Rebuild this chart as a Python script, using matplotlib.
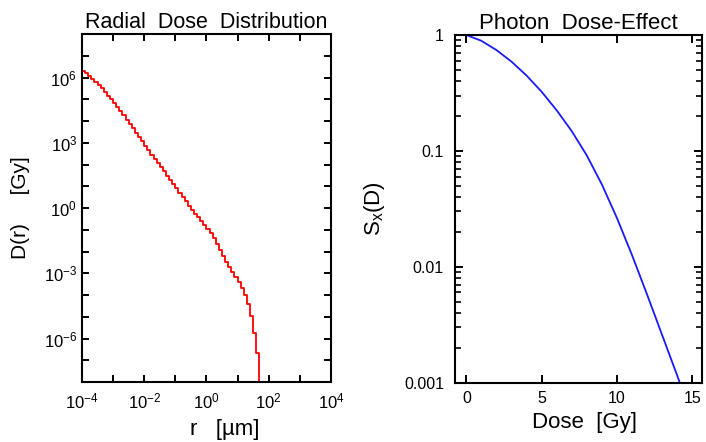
import matplotlib
matplotlib.use("Agg")
import matplotlib.pyplot as plt
import matplotlib.ticker as ticker
import numpy as np

# radial dose: bin edges in log10(r / um), one bin per 0.1 decade
LOG_R_EDGES = [
    -4.0, -3.9, -3.8, -3.7, -3.6, -3.5, -3.4, -3.3, -3.2, -3.1,
    -3.0, -2.9, -2.8, -2.7, -2.6, -2.5, -2.4, -2.3, -2.2, -2.1,
    -2.0, -1.9, -1.8, -1.7, -1.6, -1.5, -1.4, -1.3, -1.2, -1.1,
    -1.0, -0.9, -0.8, -0.7, -0.6, -0.5, -0.4, -0.3, -0.2, -0.1,
    0.0, 0.1, 0.2, 0.3, 0.4, 0.5, 0.6, 0.7, 0.8, 0.9,
    1.0, 1.1, 1.2, 1.3, 1.4, 1.5, 1.6, 1.7,
]
# log10(D / Gy) in each bin
LOG_DOSE = [
    6.30, 6.19, 6.07, 5.94, 5.80, 5.65, 5.50, 5.34, 5.17, 5.00,
    4.82, 4.64, 4.45, 4.26, 4.06, 3.86, 3.66, 3.46, 3.26, 3.06,
    2.86, 2.66, 2.46, 2.27, 2.07, 1.88, 1.68, 1.49, 1.29, 1.10,
    0.90, 0.71, 0.51, 0.31, 0.11, -0.09, -0.26, -0.43, -0.60, -0.77,
    -0.95, -1.16, -1.40, -1.65, -1.92, -2.19, -2.46, -2.72, -2.96, -3.19,
    -3.42, -3.68, -3.98, -4.40, -4.95, -5.75, -6.65,
]

# photon survival curve
PHOTON_DOSE = [0, 1, 2, 3, 4, 5, 6, 7, 8, 9, 10, 11, 12, 13, 14, 14.17]
LOG_SURVIVAL = [0.0, -0.05, -0.13, -0.23, -0.35, -0.49, -0.65, -0.83, -1.04,
                -1.29, -1.58, -1.90, -2.24, -2.59, -2.94, -3.0]

plt.rcParams.update({
    "font.family": "Liberation Sans",
    "mathtext.fontset": "custom",
    "mathtext.rm": "Liberation Sans",
    "mathtext.it": "Liberation Sans",
    "font.size": 11.5,
    "axes.linewidth": 1.5,
    "xtick.direction": "in",
    "ytick.direction": "in",
    "xtick.top": True,
    "ytick.right": True,
})

fig = plt.figure(figsize=(7.06, 4.42), dpi=100)

# ---- left: radial dose distribution
ax1 = fig.add_axes([0.1161, 0.1357, 0.3527, 0.7873])
r_edges = 10.0 ** np.array(LOG_R_EDGES)
dose = 10.0 ** np.array(LOG_DOSE)
ax1.step(r_edges, np.append(dose, 1e-12), where="post", color="#ff0000", lw=1.3)
ax1.set_xscale("log")
ax1.set_yscale("log")
ax1.set_xlim(1e-4, 1e4)
ax1.set_ylim(1e-8, 1e8)
ax1.xaxis.set_major_locator(ticker.FixedLocator([1e-4, 1e-2, 1e0, 1e2, 1e4]))
ax1.xaxis.set_minor_locator(ticker.FixedLocator([10.0 ** k for k in range(-4, 5)]))
ax1.yaxis.set_major_locator(ticker.FixedLocator([1e-6, 1e-3, 1e0, 1e3, 1e6]))
ax1.yaxis.set_minor_locator(ticker.FixedLocator([10.0 ** k for k in range(-8, 9)]))
ax1.xaxis.set_major_formatter(ticker.FuncFormatter(lambda v, p: "$10^{%d}$" % round(np.log10(v))))
ax1.yaxis.set_major_formatter(ticker.FuncFormatter(lambda v, p: "$10^{%d}$" % round(np.log10(v))))
ax1.xaxis.set_minor_formatter(ticker.NullFormatter())
ax1.yaxis.set_minor_formatter(ticker.NullFormatter())
ax1.tick_params(which="both", length=5, width=1.4, labelsize=12)
ax1.tick_params(axis="x", pad=7)
ax1.set_title("Radial  Dose  Distribution", fontsize=15.5, pad=4)
ax1.set_xlabel("r   [µm]", fontsize=16)
ax1.xaxis.set_label_coords(0.575, -0.105)
ax1.set_ylabel("D(r)     [Gy]", fontsize=15, labelpad=10)

# ---- right: photon dose-effect
ax2 = fig.add_axes([0.6445, 0.1346, 0.3499, 0.7862])
ax2.plot(PHOTON_DOSE, 10.0 ** np.array(LOG_SURVIVAL), color="#1a1aff", lw=1.3)
ax2.set_yscale("log")
ax2.set_xlim(-0.75, 15.65)
ax2.set_ylim(1e-3, 1)
ax2.xaxis.set_major_locator(ticker.FixedLocator([0, 5, 10, 15]))
ax2.yaxis.set_major_locator(ticker.FixedLocator([1e-3, 1e-2, 1e-1, 1]))
ax2.yaxis.set_minor_locator(ticker.LogLocator(base=10, subs=np.arange(2, 10)))
ax2.yaxis.set_major_formatter(ticker.FixedFormatter(["0.001", "0.01", "0.1", "1"]))
ax2.yaxis.set_minor_formatter(ticker.NullFormatter())
ax2.tick_params(which="major", length=6, width=1.4)
ax2.tick_params(which="minor", length=4, width=1.2)
ax2.tick_params(axis="x", pad=6)
ax2.tick_params(axis="y", pad=8)
ax2.set_title("Photon  Dose-Effect", fontsize=16, pad=4)
ax2.set_xlabel("Dose  [Gy]", fontsize=16)
ax2.xaxis.set_label_coords(0.526, -0.085)
ax2.set_ylabel(r"S$_{\mathrm{x}}$(D)", fontsize=16, labelpad=12)

fig.savefig("out.png", dpi=100)
